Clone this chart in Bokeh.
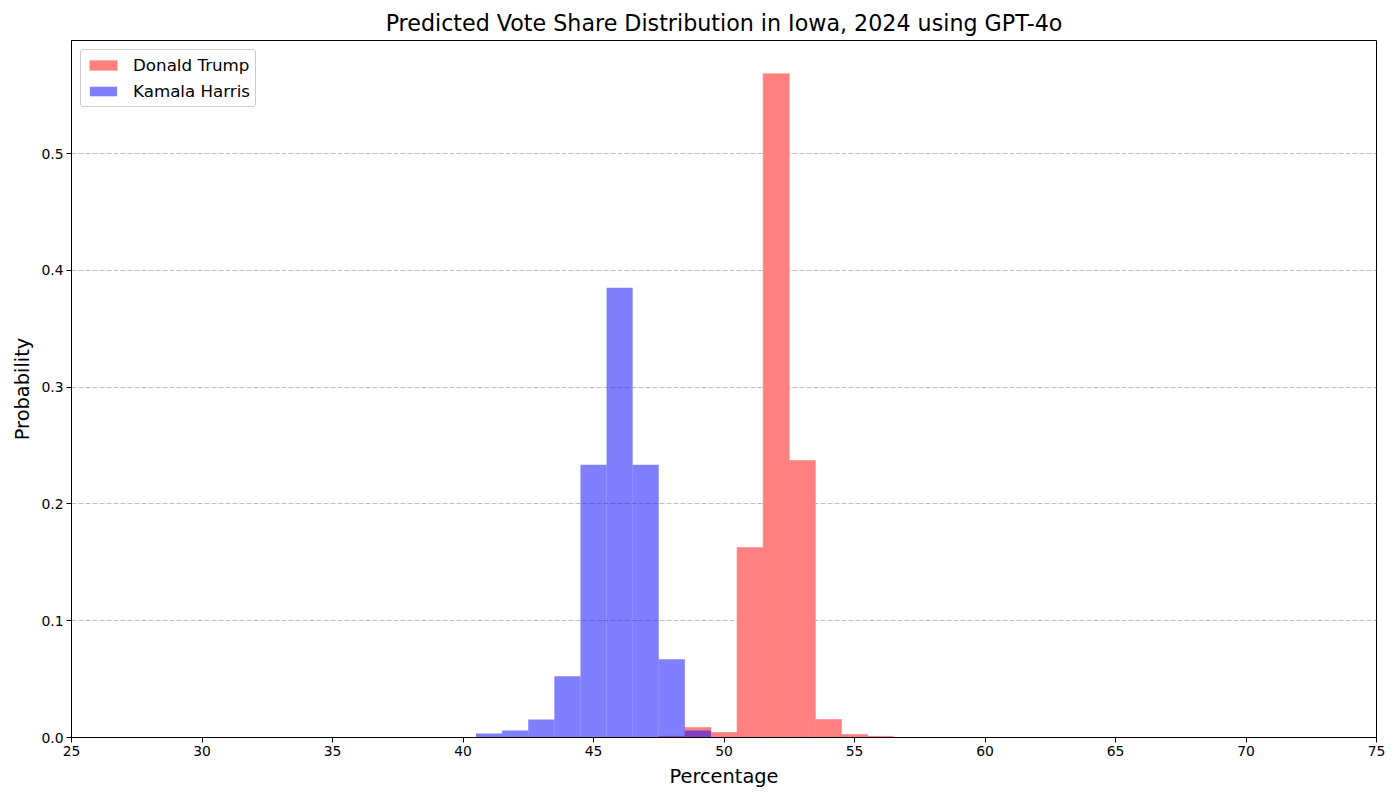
from bokeh.plotting import figure
from bokeh.models import FixedTicker, PrintfTickFormatter, Range1d, Legend, LegendItem, ColumnDataSource
from bokeh.embed import file_html
from bokeh.resources import INLINE

trump_bins = [48, 49, 50, 51, 52, 53, 54, 55, 56]
trump_prob = [0.001, 0.0086, 0.0043, 0.1627, 0.5685, 0.2372, 0.0154, 0.0026, 0.001]
harris_bins = [41, 42, 43, 44, 45, 46, 47, 48, 49]
harris_prob = [0.0034, 0.006, 0.0154, 0.0525, 0.2337, 0.3853, 0.2337, 0.067, 0.006]
x_ticks = [25, 30, 35, 40, 45, 50, 55, 60, 65, 70, 75]
y_ticks = [0.0, 0.1, 0.2, 0.3, 0.4, 0.5]

FONT = "DejaVu Sans"

p = figure(frame_width=1305, frame_height=697, output_backend="svg", toolbar_location=None,
           x_range=Range1d(25, 75), y_range=Range1d(0, 0.597),
           min_border_left=63, min_border_right=12, min_border_top=32, min_border_bottom=40)
p.margin = (2, 0, 0, 8)

p.title.text = "Predicted Vote Share Distribution in Iowa, 2024 using GPT-4o"
p.title.align = "center"
p.title.text_font = FONT
p.title.text_font_size = "22.2px"
p.title.text_font_style = "normal"
p.title.text_color = "black"
p.title.offset = 0

ts = ColumnDataSource(dict(x=trump_bins, top=trump_prob))
hs = ColumnDataSource(dict(x=harris_bins, top=harris_prob))
# red with alpha 0.5 over white, drawn opaque (with matching outline) so adjacent bars show no seams
r1 = p.vbar(x="x", top="top", width=1, bottom=0, source=ts, fill_color="#ff8080", fill_alpha=1,
            line_color="#ff8080", line_width=0.6)
r2 = p.vbar(x="x", top="top", width=1, bottom=0, source=hs, fill_color="blue", fill_alpha=0.5, line_color=None)

legend = Legend(items=[LegendItem(label="Donald Trump", renderers=[r1]),
                       LegendItem(label="Kamala Harris", renderers=[r2])],
                location="top_left")
legend.label_text_font = FONT
legend.label_text_font_size = "16.7px"
legend.label_text_color = "black"
legend.border_line_color = "#cccccc"
legend.border_line_alpha = 1
legend.border_radius = 3
legend.glyph_width = 34
legend.glyph_height = 12
legend.spacing = 6
legend.padding = 5
legend.margin = 9
legend.label_standoff = 13
p.add_layout(legend)

p.xgrid.grid_line_color = None
p.ygrid.grid_line_color = "#b0b0b0"
p.ygrid.grid_line_alpha = 0.8
p.ygrid.grid_line_dash = "5 2"
p.ygrid.ticker = FixedTicker(ticks=y_ticks)

p.xaxis.ticker = FixedTicker(ticks=x_ticks)
p.yaxis.ticker = FixedTicker(ticks=y_ticks)
p.yaxis.formatter = PrintfTickFormatter(format="%.1f")
for ax in (p.xaxis, p.yaxis):
    ax.major_label_text_font = FONT
    ax.major_label_text_font_size = "13.9px"
    ax.major_label_text_color = "black"
    ax.major_label_standoff = 3
    ax.axis_label_text_font = FONT
    ax.axis_label_text_font_size = "19.4px"
    ax.axis_label_text_font_style = "normal"
    ax.axis_label_text_color = "black"
    ax.major_tick_out = 5
    ax.major_tick_in = 0
    ax.minor_tick_out = 0
    ax.minor_tick_in = 0
    ax.axis_line_color = "black"
    ax.major_tick_line_color = "black"
p.xaxis.axis_label = "Percentage"
p.yaxis.axis_label = "Probability"
p.xaxis.axis_label_standoff = 6
p.yaxis.axis_label_standoff = 4

p.outline_line_color = "black"
p.outline_line_alpha = 1
p.outline_line_width = 1

open("out.html", "w").write(file_html(p, INLINE))
